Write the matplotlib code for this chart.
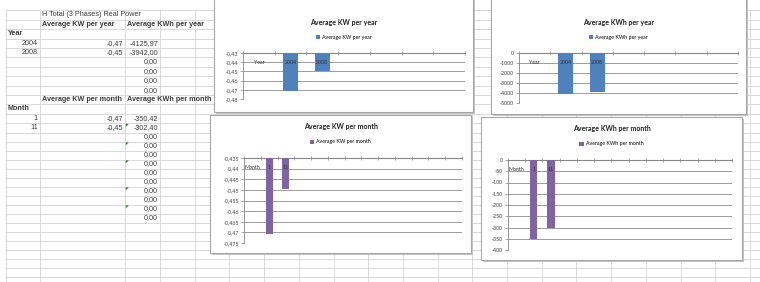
import numpy as np
import matplotlib.pyplot as plt
from matplotlib.patches import Rectangle, Polygon

W, H = 760, 282

# spreadsheet values
sheet_title = 'H Total (3 Phases) Real Power'
years = ['2004', '2008']
kw_year = [-0.4712, -0.4496]
kwh_year = [-4125.97, -3942.00]
year_zero_rows = 4
months = ['1', '11']
kw_month = [-0.4708, -0.4496]
kwh_month = [-350.42, -302.40]
month_zero_rows = 10

# chart axes
kw_year_ticks = [-0.43, -0.44, -0.45, -0.46, -0.47, -0.48]
kw_year_labels = ['-0,43', '-0,44', '-0,45', '-0,46', '-0,47', '-0,48']
kwh_year_ticks = [0, -1000, -2000, -3000, -4000, -5000]
kwh_year_labels = ['0', '-1000', '-2000', '-3000', '-4000', '-5000']
kw_month_ticks = [-0.435, -0.44, -0.445, -0.45, -0.455, -0.46, -0.465, -0.47, -0.475]
kw_month_labels = ['-0,435', '-0,44', '-0,445', '-0,45', '-0,455', '-0,46', '-0,465', '-0,47', '-0,475']
kwh_month_ticks = [0, -50, -100, -150, -200, -250, -300, -350, -400]
kwh_month_labels = ['0', '-50', '-100', '-150', '-200', '-250', '-300', '-350', '-400']

BLUE = '#4f81bd'
PURPLE = '#8064a2'
TXT = '#3a3a3a'
TABLE_FONT = 'Liberation Sans'
CHART_FONT = 'Lato'

fig = plt.figure(figsize=(7.6, 2.82), dpi=100)
bg = fig.add_axes([0, 0, 1, 1])
bg.set_xlim(0, W)
bg.set_ylim(H, 0)
bg.axis('off')

# sheet grid
cols = [6, 40, 125, 160] + list(160 + 34.7 * np.arange(1, 18))
rows = list(10.3 + 9.4 * np.arange(14)) + list(132.5 + 9.0 * np.arange(1, 17))
gc = '#d8d8d8'
bg.vlines(cols, 9, H, color=gc, lw=0.7)
bg.hlines(rows, 6, W, color=gc, lw=0.7)


def row_y(k):
    return (rows[k] + rows[k + 1]) / 2


def fmt(v):
    return ('%.2f' % v).replace('.', ',')


def cell(x, k, s, ha='left', bold=False):
    bg.text(x, row_y(k), s, ha=ha, va='center', fontsize=5.2, color=TXT,
            family=TABLE_FONT, fontweight='bold' if bold else 'normal')


cell(42, 0, sheet_title)
cell(42, 1, 'Average KW per year', bold=True)
cell(127, 1, 'Average KWh per year', bold=True)
cell(8, 2, 'Year', bold=True)
k = 3
for y, a, b in zip(years, kw_year, kwh_year):
    cell(38, k, y, ha='right')
    cell(123, k, fmt(a), ha='right')
    cell(158, k, fmt(b), ha='right')
    k += 1
for i in range(year_zero_rows):
    cell(158, k, fmt(0), ha='right')
    k += 1
cell(42, k, 'Average KW per month', bold=True)
cell(127, k, 'Average KWh per month', bold=True)
k += 1
cell(8, k, 'Month', bold=True)
k += 1
for m, a, b in zip(months, kw_month, kwh_month):
    cell(38, k, m, ha='right')
    cell(123, k, fmt(a), ha='right')
    cell(158, k, fmt(b), ha='right')
    k += 1
for i in range(month_zero_rows):
    cell(158, k, fmt(0), ha='right')
    k += 1

# green error markers
for r in [12, 14, 16, 19, 21]:
    t = rows[r] + 0.8
    bg.add_patch(Polygon([[125.8, t], [128.8, t], [125.8, t + 3]], closed=True,
                         color='#1e8a1e', lw=0, zorder=3))


def chart(box, plot, title, title_y, legend_y, cats, vals, ticks, labels, color, name, bw):
    x0, y0, x1, y1 = box
    bg.add_patch(Rectangle((x0 + 1.5, y0 + 1.5), x1 - x0, y1 - y0, color='#c4c4c4', lw=0, zorder=4))
    bg.add_patch(Rectangle((x0, y0), x1 - x0, y1 - y0, facecolor='white',
                           edgecolor='#a6a6a6', lw=0.8, zorder=5))
    cx = (x0 + x1) / 2
    bg.text(cx, title_y, title, ha='center', va='center', fontsize=5, fontweight='bold',
            color='#202020', family=CHART_FONT, zorder=6)

    px0, py0, px1, py1 = plot
    ax = fig.add_axes([px0 / W, 1 - py1 / H, (px1 - px0) / W, (py1 - py0) / H])
    top = max(ticks)
    n = len(cats)
    xs = [i for i, v in enumerate(vals) if v is not None]
    hs = [vals[i] - top for i in xs]
    bars = ax.bar(xs, hs, bottom=top, width=bw, color=color, zorder=3)
    for i, c in enumerate(cats):
        ax.annotate(c, (i, top), xytext=(0, -7), textcoords='offset points', ha='center',
                    va='center', fontsize=3.8, color='#303030', family=CHART_FONT, zorder=4)
    ax.set_xlim(-0.5, n - 0.5)
    ax.set_ylim(min(ticks), top)
    ax.set_xticks(np.arange(n + 1) - 0.5)
    ax.tick_params(axis='x', top=True, bottom=False, labeltop=False, labelbottom=False,
                   direction='inout', length=2.5, width=0.5, color='#868686')
    ax.set_yticks(ticks)
    ax.set_yticklabels(labels, family=CHART_FONT)
    ax.tick_params(axis='y', length=2, width=0.5, color='#868686', labelsize=3.8,
                   labelcolor='#404040', pad=1.5)
    ax.yaxis.grid(True, color='#8c8c8c', lw=0.6)
    ax.set_axisbelow(True)
    for s in ['right', 'bottom']:
        ax.spines[s].set_visible(False)
    ax.spines['left'].set_color('#868686')
    ax.spines['left'].set_linewidth(0.6)
    ax.spines['top'].set_color('#868686')
    ax.spines['top'].set_linewidth(0.8)
    ax.legend([bars], [name], loc='center', bbox_to_anchor=(cx / W, 1 - legend_y / H),
              bbox_transform=fig.transFigure, frameon=False, prop={'family': CHART_FONT, 'size': 3.8},
              handlelength=0.8, handleheight=0.8, handletextpad=0.4, borderpad=0)
    return ax


year_cats = ['Year'] + years + [''] * year_zero_rows
month_cats = ['Month'] + months + [''] * month_zero_rows

chart((214, -3, 473, 112), (243, 53, 465, 99), 'Average KW per year', 23, 37,
      year_cats, [None] + kw_year + [None] * year_zero_rows,
      kw_year_ticks, kw_year_labels, BLUE, 'Average KW per year', 0.48)
chart((491, -3, 746, 114), (519, 53, 738, 103), 'Average KWh per year', 23, 37,
      year_cats, [None] + kwh_year + [0.0] * year_zero_rows,
      kwh_year_ticks, kwh_year_labels, BLUE, 'Average KWh per year', 0.48)
chart((210, 115, 471, 253), (244, 158, 462, 243), 'Average KW per month', 127, 142,
      month_cats, [None] + kw_month + [None] * month_zero_rows,
      kw_month_ticks, kw_month_labels, PURPLE, 'Average KW per month', 0.42)
chart((481, 117, 742, 260), (508, 160, 732, 250), 'Average KWh per month', 129, 144,
      month_cats, [None] + kwh_month + [0.0] * month_zero_rows,
      kwh_month_ticks, kwh_month_labels, PURPLE, 'Average KWh per month', 0.42)

fig.savefig('out.png', dpi=100)
